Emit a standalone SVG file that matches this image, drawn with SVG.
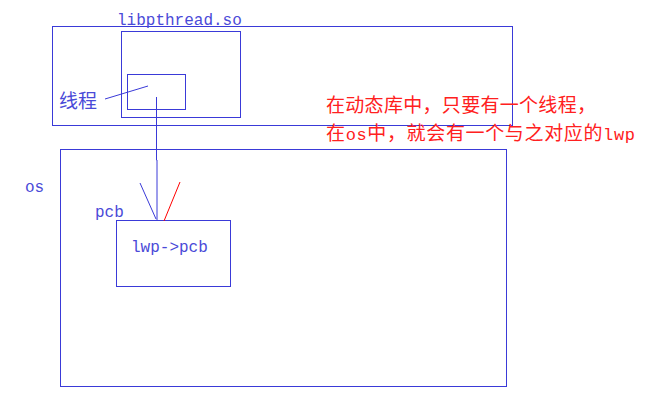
<svg xmlns="http://www.w3.org/2000/svg" width="660" height="414" viewBox="0 0 660 414">
<style>
.box{fill:none;stroke:#3a3ad8;stroke-width:1}
.ln{stroke:#3a3ad8;stroke-width:1;fill:none}
.mono{font-family:"Liberation Mono","Noto Sans CJK SC",monospace;font-size:16px;fill:#4a4ad8}
.cjk{font-family:"Noto Sans CJK SC",sans-serif;font-size:19px;fill:#4a4ad8}
.red{font-family:"Noto Sans CJK SC",sans-serif;font-size:19px;fill:#ff2020}
.redm{font-family:"Liberation Mono",monospace;font-size:17px}
</style>
<rect width="660" height="414" fill="#ffffff"/>
<g id="libpthread">
<rect class="box" x="52.5" y="26.5" width="460" height="99"/>
<text class="mono" x="117" y="25">libpthread.so</text>
</g>
<g id="inner">
<rect class="box" x="121.5" y="31.5" width="119" height="86"/>
</g>
<g id="thread">
<rect class="box" x="127.5" y="74.5" width="58" height="35"/>
<text class="cjk" x="59" y="108">线程</text>
</g>
<g id="os">
<rect class="box" x="60.5" y="149.5" width="446" height="237"/>
<text class="mono" x="25" y="192">os</text>
</g>
<g id="pcb">
<rect class="box" x="116.5" y="220.5" width="114" height="66"/>
<text class="mono" x="95" y="217">pcb</text>
<text class="mono" x="131" y="252">lwp-&gt;pcb</text>
</g>
<g id="note">
<text class="red" x="326" y="112" textLength="270" lengthAdjust="spacing">在动态库中，只要有一个线程，</text>
<text class="red" x="326" y="140" textLength="309" lengthAdjust="spacing">在<tspan class="redm">os</tspan>中，就会有一个与之对应的<tspan class="redm">lwp</tspan></text>
</g>
<g id="connectors">
<line class="ln" x1="105" y1="99" x2="148" y2="86"/>
<polyline class="ln" points="156.5,97 156.5,160 157,160 157,220"/>
<line class="ln" x1="140" y1="183" x2="156" y2="219"/>
<line x1="180" y1="182" x2="164" y2="221" stroke="#ff0000" stroke-width="1"/>
</g>
</svg>
